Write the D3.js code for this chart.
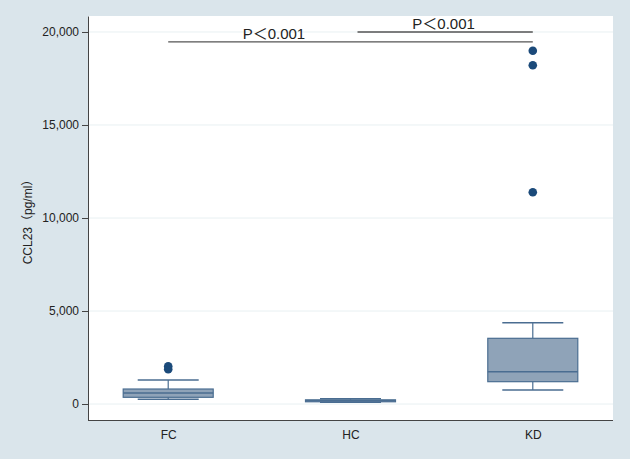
<!DOCTYPE html>
<html lang="en">
<head>
    <meta charset="UTF-8">
    <title>CCL23 box plot</title>
    <style>
        body { margin: 0; background: #dae5eb; }
        text { font-family: "Liberation Sans", Arial, "Noto Sans CJK SC", sans-serif; fill: #222; }
    </style>
</head>
<body>
    <script src="https://d3js.org/d3.v7.min.js"></script>
    <script>
        // values
        const categories = ["FC", "HC", "KD"];
        const whiskerLow = [253, 100, 753];
        const q1 = [360, 120, 1200];
        const median = [591, 170, 1737];
        const q3 = [806, 225, 3532];
        const whiskerHigh = [1290, 280, 4371];
        const outliers = [[1870, 2030], [], [11382, 18210, 18995]];
        const yTicks = [0, 5000, 10000, 15000, 20000];
        // labelAt: where the text sits along the bracket (0 = start, 1 = end)
        const pLabels = [
            { from: "FC", to: "KD", y: 19470, labelAt: 0.29, text: "P＜0.001" },
            { from: "HC", to: "KD", y: 20000, labelAt: 0.5, text: "P＜0.001" }
        ];

        const width = 630;
        const height = 459;
        const plotLeft = 88, plotRight = 613, plotTop = 16, plotBottom = 420;

        const svg = d3.select("body")
            .append("svg")
            .attr("width", width)
            .attr("height", height)
            .style("display", "block");

        svg.append("rect")
            .attr("width", width)
            .attr("height", height)
            .attr("fill", "#dae5eb");

        svg.append("rect")
            .attr("x", plotLeft)
            .attr("y", plotTop)
            .attr("width", plotRight - plotLeft)
            .attr("height", plotBottom - plotTop)
            .attr("fill", "#ffffff");

        var x = d3.scalePoint()
            .domain(categories)
            .range([plotLeft, plotRight])
            .padding(0.44);

        var y = d3.scaleLinear()
            .domain([-860, 20860])
            .range([plotBottom, plotTop]);

        // grid
        svg.append("g")
            .selectAll("line")
            .data(yTicks)
            .enter()
            .append("line")
            .attr("x1", plotLeft)
            .attr("x2", plotRight)
            .attr("y1", d => y(d))
            .attr("y2", d => y(d))
            .attr("stroke", "#e8f0f2")
            .attr("stroke-width", 1);

        var y_axis = d3.axisLeft(y)
            .tickValues(yTicks)
            .tickFormat(d3.format(","))
            .tickSize(6)
            .tickSizeOuter(0);
        var gy = svg.append("g")
            .attr("transform", "translate(" + plotLeft + ",0)")
            .call(y_axis);
        gy.select(".domain").attr("stroke", "#444");
        gy.selectAll(".tick line").attr("stroke", "#444");
        gy.selectAll(".tick text").attr("font-size", 12).attr("fill", "#222").attr("x", -9);

        var x_axis = d3.axisBottom(x)
            .tickSize(0)
            .tickSizeOuter(0);
        var gx = svg.append("g")
            .attr("transform", "translate(0," + plotBottom + ")")
            .call(x_axis);
        gx.select(".domain").attr("stroke", "#444").attr("d", "M" + plotLeft + ",0.5H" + plotRight);
        gx.selectAll(".tick text").attr("font-size", 12).attr("fill", "#222").attr("dy", "1.3em");

        svg.append("text")
            .attr("transform", "translate(32," + ((plotTop + plotBottom) / 2 + 1) + ") rotate(-90)")
            .attr("text-anchor", "middle")
            .attr("font-size", 12)
            .text("CCL23（pg/ml）");

        const boxW = 90, capW = 61;
        const stroke = "#4a6d91", fill = "#8fa3b8";

        var g = svg.selectAll("g.box")
            .data(categories)
            .enter()
            .append("g")
            .attr("class", "box")
            .attr("transform", d => "translate(" + x(d) + ",0)");

        // whiskers
        g.append("line")
            .attr("x1", 0).attr("x2", 0)
            .attr("y1", (d, i) => y(whiskerHigh[i]))
            .attr("y2", (d, i) => y(q3[i]))
            .attr("stroke", stroke).attr("stroke-width", 1.2);
        g.append("line")
            .attr("x1", 0).attr("x2", 0)
            .attr("y1", (d, i) => y(q1[i]))
            .attr("y2", (d, i) => y(whiskerLow[i]))
            .attr("stroke", stroke).attr("stroke-width", 1.2);
        g.append("line")
            .attr("x1", -capW / 2).attr("x2", capW / 2)
            .attr("y1", (d, i) => y(whiskerHigh[i]))
            .attr("y2", (d, i) => y(whiskerHigh[i]))
            .attr("stroke", stroke).attr("stroke-width", 1.5);
        g.append("line")
            .attr("x1", -capW / 2).attr("x2", capW / 2)
            .attr("y1", (d, i) => y(whiskerLow[i]))
            .attr("y2", (d, i) => y(whiskerLow[i]))
            .attr("stroke", stroke).attr("stroke-width", 1.5);

        g.append("rect")
            .attr("x", -boxW / 2)
            .attr("width", boxW)
            .attr("y", (d, i) => y(q3[i]))
            .attr("height", (d, i) => Math.max(1, y(q1[i]) - y(q3[i])))
            .attr("fill", fill)
            .attr("stroke", stroke)
            .attr("stroke-width", 1.2);

        g.append("line")
            .attr("x1", -boxW / 2).attr("x2", boxW / 2)
            .attr("y1", (d, i) => y(median[i]))
            .attr("y2", (d, i) => y(median[i]))
            .attr("stroke", stroke).attr("stroke-width", 1.5);

        g.selectAll("circle")
            .data((d, i) => outliers[i])
            .enter()
            .append("circle")
            .attr("cx", 0)
            .attr("cy", d => y(d))
            .attr("r", 4.3)
            .attr("fill", "#1b4a7a");

        // significance brackets
        var p = svg.selectAll("g.pval")
            .data(pLabels)
            .enter()
            .append("g")
            .attr("class", "pval");
        p.append("line")
            .attr("x1", d => x(d.from) + (d.from === "HC" ? 7 : 0))
            .attr("x2", d => x(d.to))
            .attr("y1", d => y(d.y))
            .attr("y2", d => y(d.y))
            .attr("stroke", "#555")
            .attr("stroke-width", 1.3);
        p.append("text")
            .attr("x", d => x(d.from) + d.labelAt * (x(d.to) - x(d.from)) + (d.from === "HC" ? 2 : 0))
            .attr("y", d => y(d.y) - 3)
            .attr("text-anchor", "middle")
            .attr("font-size", 15)
            .text(d => d.text);
    </script>
</body>
</html>
